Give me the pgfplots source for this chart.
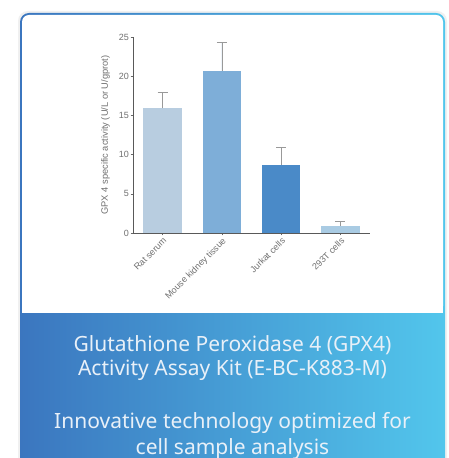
\documentclass[border=0pt]{standalone}
\usepackage{fontspec}
\setmainfont{Noto Sans}
\newfontfamily\chartfont{Liberation Sans}
\usepackage{pgfplots}
\pgfplotsset{compat=1.18}
\definecolor{barA}{HTML}{B8CDE0}
\definecolor{barB}{HTML}{7EAED8}
\definecolor{barC}{HTML}{4A8AC8}
\definecolor{barD}{HTML}{A9CBE3}
\definecolor{gleft}{HTML}{3B76BF}
\definecolor{gright}{HTML}{52C6EC}
\definecolor{txtgray}{HTML}{707070}
\definecolor{panelText}{HTML}{E8F0F8}
\begin{document}
\begin{tikzpicture}[x=1pt,y=1pt]
\useasboundingbox (0,0) rectangle (449,458);
\fill[white] (0,0) rectangle (449,458);
\begin{scope}
\clip (0,0) rectangle (449,458);
\fill[black!6, rounded corners=10pt] (18,-20) rectangle (447,447);
% outer shaded frame
\shade[left color=gleft, right color=gright, rounded corners=9pt] (20,-20) rectangle (445,445);
% white inner area
\fill[white, rounded corners=7pt] (22,145) -- (22,443) -- (443,443) -- (443,145) -- cycle;
\fill[white] (22,145) rectangle (443,160);
\end{scope}
\begin{axis}[
  at={(133pt,225pt)}, anchor=south west,
  width=237pt, height=196pt, scale only axis,
  xmin=-0.5, xmax=3.5, ymin=0, ymax=25,
  axis x line*=bottom, axis y line*=left,
  axis line style={draw=black!65, line width=0.6pt},
  ytick={0,5,10,15,20,25},
  xtick={0,1,2,3},
  xticklabels={Rat serum, Mouse kidney tissue, Jurkat cells, 293T cells},
  tick align=outside, major tick length=2.5pt,
  tick style={draw=black!60, line width=0.5pt},
  ticklabel style={font=\chartfont\fontsize{9}{10}\selectfont, text=txtgray},
  /pgf/number format/assume math mode=true,
  xticklabel style={rotate=45, anchor=north east, inner sep=1pt},
  yticklabel style={inner sep=1.5pt},
  ylabel={GPX 4 specific activity (U/L or U/gprot)},
  ylabel style={font=\chartfont\fontsize{9.3}{10}\selectfont, text=txtgray, yshift=4pt},
  ybar, bar width=38.5pt, bar shift=0pt,
  clip=false,
  error bars/y dir=plus, error bars/y explicit,
  error bars/error bar style={draw=black!40, line width=0.6pt},
  error bars/error mark options={draw=black!40, line width=0.6pt, mark size=5pt, rotate=90},
]
\addplot[fill=barA, draw=none] coordinates {(0,15.9) +- (0,2.0)};
\addplot[fill=barB, draw=none] coordinates {(1,20.7) +- (0,3.6)};
\addplot[fill=barC, draw=none] coordinates {(2,8.7) +- (0,2.2)};
\addplot[fill=barD, draw=none] coordinates {(3,0.95) +- (0,0.55)};
\end{axis}
\begin{scope}[every node/.style={text=panelText, font=\fontsize{21}{24}\selectfont, inner sep=0pt, anchor=base}]
\node at (232.5,106) {Glutathione Peroxidase 4 (GPX4)};
\node at (232.5,82) {Activity Assay Kit (E-BC-K883-M)};
\node at (232.5,29) {Innovative technology optimized for};
\node at (232.5,3) {cell sample analysis};
\end{scope}
\end{tikzpicture}
\end{document}
